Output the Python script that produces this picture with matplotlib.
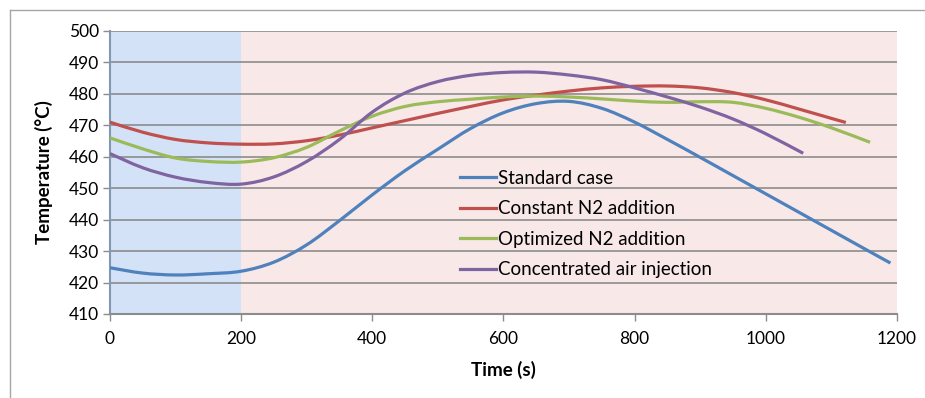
import matplotlib
matplotlib.use("Agg")
import matplotlib.pyplot as plt
from matplotlib.lines import Line2D
from matplotlib.path import Path
from matplotlib.patches import PathPatch

plt.rcParams['font.family'] = ['Lato', 'DejaVu Sans']

# Temperature profiles (time in s, temperature in degC)
t_std = [0, 50, 100, 150, 200, 250, 300, 350, 400, 450, 500, 550, 600, 650,
         700, 750, 800, 850, 900, 950, 1000, 1050, 1100, 1150, 1190]
T_std = [424.7, 423.0, 422.4, 422.8, 423.6, 426.5, 432.0, 439.7, 447.9, 455.6,
         462.4, 469.0, 474.0, 476.9, 477.6, 475.4, 471.0, 465.5, 459.8, 454.0,
         448.2, 442.4, 436.6, 430.8, 426.2]

t_const = [0, 50, 100, 150, 200, 250, 300, 350, 400, 450, 500, 550, 600, 650,
           700, 750, 800, 850, 900, 950, 1000, 1050, 1100, 1122]
T_const = [471.0, 467.8, 465.5, 464.4, 464.0, 464.1, 465.1, 466.9, 469.2, 471.5,
           473.8, 476.0, 478.1, 479.6, 480.9, 481.9, 482.4, 482.5, 481.9, 480.4,
           478.1, 475.2, 472.2, 470.9]

t_opt = [0, 50, 100, 150, 200, 250, 300, 350, 400, 450, 500, 550, 600, 650,
         700, 750, 800, 850, 900, 950, 1000, 1050, 1100, 1159]
T_opt = [466.0, 462.5, 459.6, 458.5, 458.3, 459.7, 463.0, 468.2, 472.9, 476.0,
         477.5, 478.3, 479.0, 479.3, 479.0, 478.4, 477.7, 477.3, 477.5, 477.3,
         475.4, 472.6, 469.2, 464.6]

t_air = [0, 50, 100, 150, 200, 250, 300, 350, 400, 450, 500, 550, 600, 650,
         700, 750, 800, 850, 900, 950, 1000, 1057]
T_air = [461.0, 456.5, 453.5, 451.8, 451.3, 453.6, 458.5, 465.5, 474.2, 480.3,
         483.9, 485.9, 486.8, 486.9, 486.0, 484.5, 481.9, 479.0, 475.8, 472.0,
         467.3, 461.1]

labels = ['Standard case', 'Constant N2 addition', 'Optimized N2 addition',
          'Concentrated air injection']
colors = ['#4F81BD', '#C0504D', '#9BBB59', '#8064A2']


def smooth_path(x, y):
    # Excel-like smoothed line: Catmull-Rom segments as cubic Beziers
    n = len(x)
    verts = [(x[0], y[0])]
    codes = [Path.MOVETO]
    for i in range(n - 1):
        i0, i2 = max(i - 1, 0), min(i + 2, n - 1)
        c1 = (x[i] + (x[i + 1] - x[i0]) / 6, y[i] + (y[i + 1] - y[i0]) / 6)
        c2 = (x[i + 1] - (x[i2] - x[i]) / 6, y[i + 1] - (y[i2] - y[i]) / 6)
        verts += [c1, c2, (x[i + 1], y[i + 1])]
        codes += [Path.CURVE4] * 3
    return Path(verts, codes)


fig = plt.figure(figsize=(9.25, 3.98), dpi=100)
ax = fig.add_axes([0.1189, 0.2111, 0.8508, 0.7111])

# shaded phases
ax.axvspan(0, 200, facecolor='#D3E2F6', edgecolor='none', zorder=0)
ax.axvspan(200, 1200, facecolor='#F8E8E8', edgecolor='none', zorder=0)

series = [(t_std, T_std), (t_const, T_const), (t_opt, T_opt), (t_air, T_air)]
handles = []
for (t, T), lab, c in zip(series, labels, colors):
    ax.add_patch(PathPatch(smooth_path(t, T), facecolor='none', edgecolor=c,
                           lw=2.3, capstyle='butt', zorder=3))
    handles.append(Line2D([], [], color=c, lw=2.3, label=lab))

ax.set_xlim(0, 1200)
ax.set_ylim(410, 500)
ax.set_xticks(range(0, 1201, 200))
ax.set_yticks(range(410, 501, 10))
ax.yaxis.grid(True, color='#8C8C8C', lw=1.2, zorder=1)
ax.set_axisbelow(True)

for s in ['top', 'right']:
    ax.spines[s].set_visible(False)
ax.spines['left'].set_color('#8497B0')
ax.spines['left'].set_linewidth(1.5)
ax.spines['bottom'].set_color('#8C8C8C')
ax.spines['bottom'].set_linewidth(1.5)
ax.tick_params(axis='both', direction='out', length=5, width=1,
               color='#8C8C8C', labelsize=12.5, labelcolor='black')
ax.tick_params(axis='x', pad=7)
ax.tick_params(axis='y', pad=3)

ax.set_xlabel('Time (s)', fontsize=13.5, fontweight='bold', labelpad=10)
ax.set_ylabel('Temperature (°C)', fontsize=13.5, fontweight='bold', labelpad=11)

ax.legend(handles=handles, loc='upper left', bbox_to_anchor=(0.445, 0.51),
          frameon=False, fontsize=13.5, handlelength=1.9, handletextpad=0.1,
          labelspacing=0.72, borderpad=0, borderaxespad=0)

# outer chart frame (left and top edges visible)
fig.add_artist(Line2D([0.011, 0.011], [0, 0.975], transform=fig.transFigure,
                      color='#A6A6A6', lw=1))
fig.add_artist(Line2D([0.011, 1.0], [0.975, 0.975], transform=fig.transFigure,
                      color='#A6A6A6', lw=1))

fig.savefig('out.png', dpi=100)
